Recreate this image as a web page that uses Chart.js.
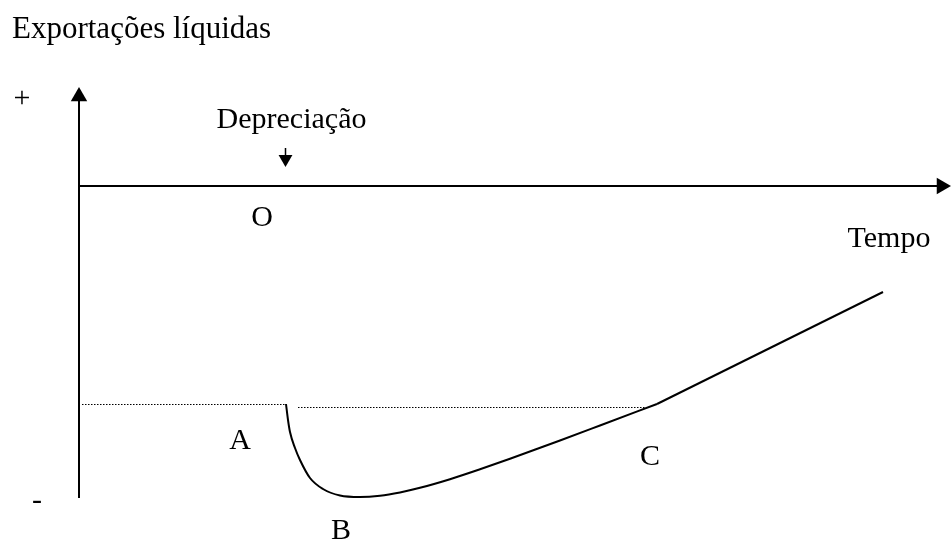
<!DOCTYPE html>
<html>
<head>
<meta charset="utf-8">
<script src="https://cdn.jsdelivr.net/npm/chart.js@4.4.1/dist/chart.umd.min.js"></script>
<style>
  body { margin: 0; background: #fff; }
  #jcurve { display: block; }
</style>
</head>
<body>
<canvas id="jcurve" width="951" height="540"></canvas>
<script>
// J-curve: net exports after a depreciation (schematic units, origin at O)
const curveTime  = [20.7, 20.9, 21.1, 21.6, 22.1, 23.1, 24.4, 26.1, 28.1, 30.1, 32.1, 34.1, 37.1, 40.1, 43.1, 48.1, 52.1, 57.8];
const curveValue = [-21.8, -23.4, -24.6, -26.2, -27.4, -29.2, -30.3, -30.95, -31.1, -30.97, -30.64, -30.18, -29.32, -28.33, -27.28, -25.45, -23.95, -21.8];
const trendTime  = [57.8, 80.4];
const trendValue = [-21.8, -10.6];
const levelBefore = [0.3, 20.7];
const levelAfter  = [21.9, 56.8];
const levelBeforeValue = -21.85;
const levelAfterValue  = -22.15;
const depreciationTime = 20.65;

const yTitle = 'Exportações líquidas';
const xTitle = 'Tempo';
const shockLabel = 'Depreciação';
const pointNames = ['O', 'A', 'B', 'C'];

const toXY = (xs, ys) => xs.map((x, i) => ({ x: x, y: Array.isArray(ys) ? ys[i] : ys }));

const lineSet = (data, extra) => Object.assign({
  data: data,
  showLine: true,
  borderColor: '#000',
  borderWidth: 2,
  pointRadius: 0,
  pointHoverRadius: 0,
  tension: 0,
  clip: false
}, extra || {});

const arrowSet = (x, y, rotation, radius) => ({
  data: [{ x: x, y: y }],
  showLine: false,
  pointStyle: 'triangle',
  pointRadius: radius,
  pointHoverRadius: radius,
  pointRotation: rotation,
  pointBackgroundColor: '#000',
  pointBorderWidth: 0,
  clip: false
});

const textPlugin = {
  id: 'texts',
  afterDraw(chart) {
    const ctx = chart.ctx;
    const xs = chart.scales.x;
    const ys = chart.scales.y;
    ctx.save();
    ctx.fillStyle = '#000';
    ctx.textBaseline = 'alphabetic';
    ctx.textAlign = 'left';
    ctx.font = '31px "Liberation Serif", "Times New Roman", serif';
    ctx.fillText(yTitle, 12, 38);
    ctx.font = '30px "Liberation Serif", "Times New Roman", serif';
    ctx.textAlign = 'center';
    ctx.fillText('+', 22, 107);
    ctx.fillText('-', 37, 509);
    ctx.fillText(shockLabel, xs.getPixelForValue(depreciationTime) + 6, 128);
    ctx.fillText(xTitle, 889, 247);
    // point labels next to their spots on the curve
    const spots = [[18.3, 0], [16.1, -21.8], [26.2, -31.1], [57.1, -21.8]];
    const offsets = [[0, 40], [0, 45], [0, 42], [0, 61]];
    pointNames.forEach((name, i) => {
      const px = xs.getPixelForValue(spots[i][0]) + offsets[i][0];
      const py = ys.getPixelForValue(spots[i][1]) + offsets[i][1];
      ctx.fillText(name, px, py);
    });
    ctx.restore();
  }
};

new Chart(document.getElementById('jcurve'), {
  type: 'scatter',
  data: {
    datasets: [
      // axes
      lineSet(toXY([0, 0], [-31.2, 9.0])),
      lineSet(toXY([0, 86.5], [0, 0])),
      arrowSet(0, 8.95, 0, 9.5),
      arrowSet(86.25, 0, 90, 9.5),
      // depreciation marker
      lineSet(toXY([depreciationTime, depreciationTime], [3.8, 2.8]), { borderWidth: 1.5 }),
      arrowSet(depreciationTime, 2.7, 180, 8),
      // initial trade balance levels
      lineSet(toXY(levelBefore, levelBeforeValue), { borderWidth: 1, borderColor: '#000', borderDash: [1.5, 1.5] }),
      lineSet(toXY(levelAfter, levelAfterValue), { borderWidth: 1, borderColor: '#000', borderDash: [1.5, 1.5] }),
      // J-curve
      lineSet(toXY(curveTime, curveValue), { cubicInterpolationMode: 'monotone' }),
      lineSet(toXY(trendTime, trendValue))
    ]
  },
  options: {
    responsive: false,
    animation: false,
    events: [],
    layout: { autoPadding: false, padding: { left: 79, top: 86, right: 0, bottom: 0 } },
    scales: {
      x: { type: 'linear', min: 0, max: 87.2, display: false },
      y: { type: 'linear', min: -35.4, max: 10, display: false }
    },
    plugins: {
      legend: { display: false },
      tooltip: { enabled: false },
      title: { display: false }
    }
  },
  plugins: [textPlugin]
});
</script>
</body>
</html>
